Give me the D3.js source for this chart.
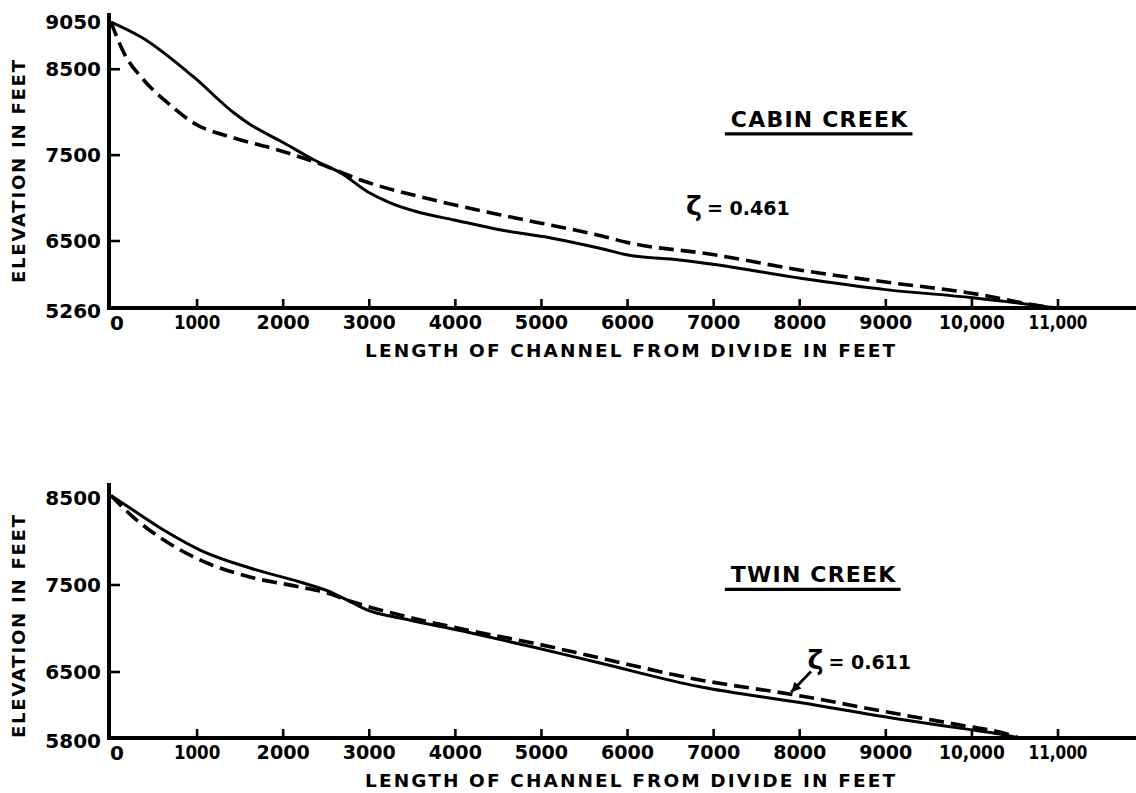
<!DOCTYPE html>
<html><head><meta charset="utf-8">
<script src="https://cdn.jsdelivr.net/npm/d3@7"></script>
<style>
body{margin:0;background:#fff;}
svg text{font-family:"DejaVu Sans",sans-serif;font-weight:bold;fill:#000;}
</style></head><body><svg id="c" width="1136" height="793"></svg>
<script>
// ---------- data ----------
const xTickValues = [1000,2000,3000,4000,5000,6000,7000,8000,9000,10000,11000];
const xTickLabels = ["1000","2000","3000","4000","5000","6000","7000","8000","9000","10,000","11,000"];

const cabinYLabels = [9050,8500,7500,6500,5260];
const cabinYTickMarks = [8500,7500,6500];
const twinYLabels = [8500,7500,6500,5800];
const twinYTickMarks = [7500,6500];

// Cabin Creek – observed profile (solid)
const cabinObsDist = [0,350,960,1430,1590,2010,2360,2670,2985,3250,3565,3985,4530,5110,5690,6005,6600,6990,8010,9000,10010,10800,10950];
const cabinObsElev = [9050,8875,8410,7990,7874,7641,7443,7292,7071,6942,6838,6745,6628,6535,6360,6240,6150,6070,5810,5600,5450,5297,5262];
// Cabin Creek – computed profile, zeta = 0.461 (dashed)
const cabinFitDist = [0,150,380,660,960,1430,1940,2400,2900,3750,4530,5690,6005,6990,8010,9000,10010,10800,10950];
const cabinFitElev = [9050,8690,8375,8107,7874,7699,7560,7408,7210,6977,6803,6560,6470,6250,5960,5740,5530,5297,5262];

// Twin Creek – observed profile (solid)
const twinObsDist = [0,255,650,1034,1614,2195,2578,2811,2973,3357,4135,4901,5679,6841,8002,9164,9942,10325,10550];
const twinObsElev = [8530,8362,8109,7902,7695,7534,7408,7293,7213,7121,6960,6787,6603,6343,6176,5998,5894,5842,5800];
// Twin Creek – computed profile, zeta = 0.611 (dashed)
const twinFitDist = [0,255,650,1115,1614,2195,2509,2811,3357,4135,4901,5679,6841,7921,9164,9942,10325,10550];
const twinFitElev = [8530,8282,7994,7753,7592,7477,7408,7305,7155,6983,6833,6661,6416,6260,6051,5925,5863,5800];

const panels = [
  {name:"CABIN CREEK", zeta:"0.461",
   obsD:cabinObsDist, obsE:cabinObsElev, fitD:cabinFitDist, fitE:cabinFitElev,
   yLabels:cabinYLabels, yTicks:cabinYTickMarks,
   yDomain:[5260,6500,9050], yRange:[308,241,22], yTop:13, yTitleEnd:283,
   titleAt:[7200,7830], zetaAt:[6680,6800], arrow:null},
  {name:"TWIN CREEK", zeta:"0.611",
   obsD:twinObsDist, obsE:twinObsElev, fitD:twinFitDist, fitE:twinFitElev,
   yLabels:twinYLabels, yTicks:twinYTickMarks,
   yDomain:[5800,6500,8500], yRange:[738,672,498], yTop:483, yTitleEnd:738,
   titleAt:[7200,7530], zetaAt:[8090,6530], arrow:[[8130,6505],[7900,6285]]}
];

function labelWidth(s){
  let w=0; for(const c of s){ w += c==="1"?6.5:(c===","?6:13.3); } return w;
}

// ---------- drawing ----------
const svg = d3.select("#c");
const x = d3.scaleLinear().domain([0,11000]).range([111,1058]);

panels.forEach(p=>{
  const y = d3.scaleLinear().domain(p.yDomain).range(p.yRange);
  const g = svg.append("g");
  const y0 = y(p.yDomain[0]);

  // axes lines
  g.append("line").attr("x1",x(0)-2).attr("x2",1136).attr("y1",y0).attr("y2",y0)
    .attr("stroke","#000").attr("stroke-width",4);
  g.append("line").attr("x1",x(0)-2).attr("x2",x(0)-2).attr("y1",p.yTop).attr("y2",y0+2)
    .attr("stroke","#000").attr("stroke-width",4);

  // x ticks
  g.selectAll(".xt").data(xTickValues).join("line")
    .attr("x1",d=>x(d)).attr("x2",d=>x(d)).attr("y1",y0).attr("y2",y0-9)
    .attr("stroke","#000").attr("stroke-width",2.6);
  g.selectAll(".xl").data(xTickValues).join("text")
    .attr("x",d=>x(d)).attr("y",y0+21).attr("text-anchor","middle")
    .attr("font-size",20)
    .attr("textLength",(d,i)=>labelWidth(xTickLabels[i]))
    .attr("lengthAdjust","spacingAndGlyphs")
    .text((d,i)=>xTickLabels[i]);
  g.append("text").attr("x",x(0)+6).attr("y",y0+22).attr("text-anchor","middle")
    .attr("font-size",20).text("0");

  // y ticks
  g.selectAll(".yt").data(p.yTicks).join("line")
    .attr("x1",x(0)-2).attr("x2",x(0)+9).attr("y1",d=>y(d)).attr("y2",d=>y(d))
    .attr("stroke","#000").attr("stroke-width",2.6);
  g.selectAll(".yl").data(p.yLabels).join("text")
    .attr("x",101).attr("y",(d,i)=>y(d)+ (i===p.yLabels.length-1?3:0)).attr("dy","0.36em")
    .attr("text-anchor","end").attr("font-size",20).text(d=>d);

  // axis titles
  g.append("text").attr("transform",`translate(25,${p.yTitleEnd})rotate(-90)`)
    .attr("text-anchor","start").attr("font-size",18)
    .attr("textLength",223).attr("lengthAdjust","spacing").text("ELEVATION IN FEET");
  g.append("text").attr("x",630).attr("y",y0+49).attr("text-anchor","middle")
    .attr("font-size",18.5).attr("textLength",530).attr("lengthAdjust","spacing")
    .text("LENGTH OF CHANNEL FROM DIVIDE IN FEET");

  // curves
  const line = d3.line().x(d=>x(d[0])).y(d=>y(d[1])).curve(d3.curveMonotoneX);
  g.append("path").datum(p.obsD.map((d,i)=>[d,p.obsE[i]])).attr("d",line)
    .attr("fill","none").attr("stroke","#000").attr("stroke-width",3);
  g.append("path").datum(p.fitD.map((d,i)=>[d,p.fitE[i]])).attr("d",line)
    .attr("fill","none").attr("stroke","#000").attr("stroke-width",3.6)
    .attr("stroke-dasharray","15,7");

  // title
  const tx = x(p.titleAt[0]), ty = y(p.titleAt[1]);
  const t = g.append("text").attr("x",tx).attr("y",ty).attr("font-size",22)
    .attr("letter-spacing",1.2).text(p.name);
  const bb = t.node().getBBox();
  g.append("line").attr("x1",bb.x-6).attr("x2",bb.x+bb.width+4)
    .attr("y1",ty+7).attr("y2",ty+7).attr("stroke","#000").attr("stroke-width",3.2);

  // zeta label
  const zx = x(p.zetaAt[0]), zy = y(p.zetaAt[1]);
  const zt = g.append("text").attr("x",zx).attr("y",zy).attr("font-size",19);
  zt.append("tspan").attr("font-size",27).text("ζ");
  zt.append("tspan").attr("dx",5).text("= "+p.zeta);

  if(p.arrow){
    const [a,b] = p.arrow;
    const x1=x(a[0]), y1=y(a[1]), x2=x(b[0]), y2=y(b[1]);
    g.append("line").attr("x1",x1).attr("y1",y1).attr("x2",x2).attr("y2",y2)
      .attr("stroke","#000").attr("stroke-width",2.8);
    const ang = Math.atan2(y2-y1,x2-x1);
    const L=11, W=0.45;
    g.append("path").attr("d",`M${x2},${y2}L${x2-L*Math.cos(ang-W)},${y2-L*Math.sin(ang-W)}L${x2-L*Math.cos(ang+W)},${y2-L*Math.sin(ang+W)}Z`)
      .attr("fill","#000");
  }
});
</script></body></html>
